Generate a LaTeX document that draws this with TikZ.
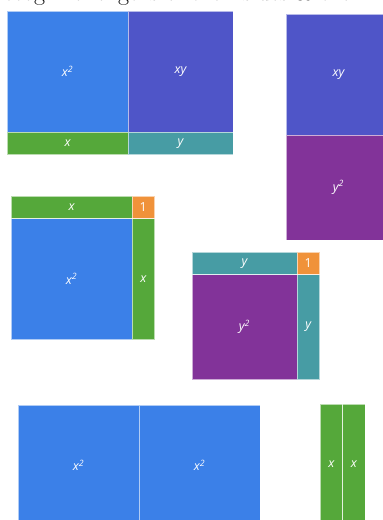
\documentclass[tikz,border=0pt]{standalone}
\usepackage{fontspec}
\setsansfont{Open Sans}
\usepackage{tikz}
\usetikzlibrary{positioning}
\definecolor{sqBlue}{HTML}{3B80E8}
\definecolor{sqIndigo}{HTML}{4F55C8}
\definecolor{sqPurple}{HTML}{823399}
\definecolor{sqGreen}{HTML}{55A83A}
\definecolor{sqTeal}{HTML}{479CA4}
\definecolor{sqOrange}{HTML}{F0923A}
\begin{document}
\begin{tikzpicture}[x=1pt,y=-1pt,
  font=\sffamily\itshape\fontsize{12.5}{15}\selectfont,
  tile/.style={draw=white, draw opacity=0.6, line width=0.6pt, text=white,
    inner sep=0pt, outer sep=0pt, anchor=north west},
  xsq/.style={tile, fill=sqBlue, minimum width=121pt, minimum height=121pt},
  ysq/.style={tile, fill=sqPurple, minimum width=105pt, minimum height=105pt},
  xywide/.style={tile, fill=sqIndigo, minimum width=105pt, minimum height=121pt},
  xbar/.style={tile, fill=sqGreen, minimum width=121pt, minimum height=22.5pt},
  xcol/.style={tile, fill=sqGreen, minimum width=22.5pt, minimum height=121pt},
  ybar/.style={tile, fill=sqTeal, minimum width=105pt, minimum height=22.5pt},
  ycol/.style={tile, fill=sqTeal, minimum width=22.5pt, minimum height=105pt},
  unit/.style={tile, fill=sqOrange, font=\sffamily\fontsize{12.5}{15}\selectfont,
    minimum width=22.5pt, minimum height=22.5pt}]
\useasboundingbox (0,0) rectangle (383,520);
\clip (0,0) rectangle (383,520);
% cut-off caption line
\node[font=\rmfamily\fontsize{24}{28}\selectfont, anchor=base west, inner sep=0pt]
  (cap) at (-5,0.5) {recognize lengths of their sides \& their};
% x^2 + xy
\node[xsq] (a1) at (7,11) {x\textsuperscript{2}};
\node[xywide, right=0pt of a1] (a2) {xy};
\node[xbar, below=0pt of a1] (a3) {x};
\node[ybar, below=0pt of a2] (a4) {y};
% xy + y^2
\node[xywide] (b1) at (286,14) {xy};
\node[ysq, below=0pt of b1] (b2) {y\textsuperscript{2}};
% (x+1) square
\node[xbar] (c1) at (11,196) {x};
\node[unit, right=0pt of c1] (c2) {1};
\node[xsq, below=0pt of c1] (c3) {x\textsuperscript{2}};
\node[xcol, right=0pt of c3] (c4) {x};
% (y+1) square
\node[ybar] (d1) at (192,252) {y};
\node[unit, right=0pt of d1] (d2) {1};
\node[ysq, below=0pt of d1] (d3) {y\textsuperscript{2}};
\node[ycol, right=0pt of d3] (d4) {y};
% 2x^2 and 2x
\node[xsq] (e1) at (18,405) {x\textsuperscript{2}};
\node[xsq, right=0pt of e1] (e2) {x\textsuperscript{2}};
\node[xcol] (f1) at (320,404) {x};
\node[xcol, right=0pt of f1] (f2) {x};
\end{tikzpicture}
\end{document}
